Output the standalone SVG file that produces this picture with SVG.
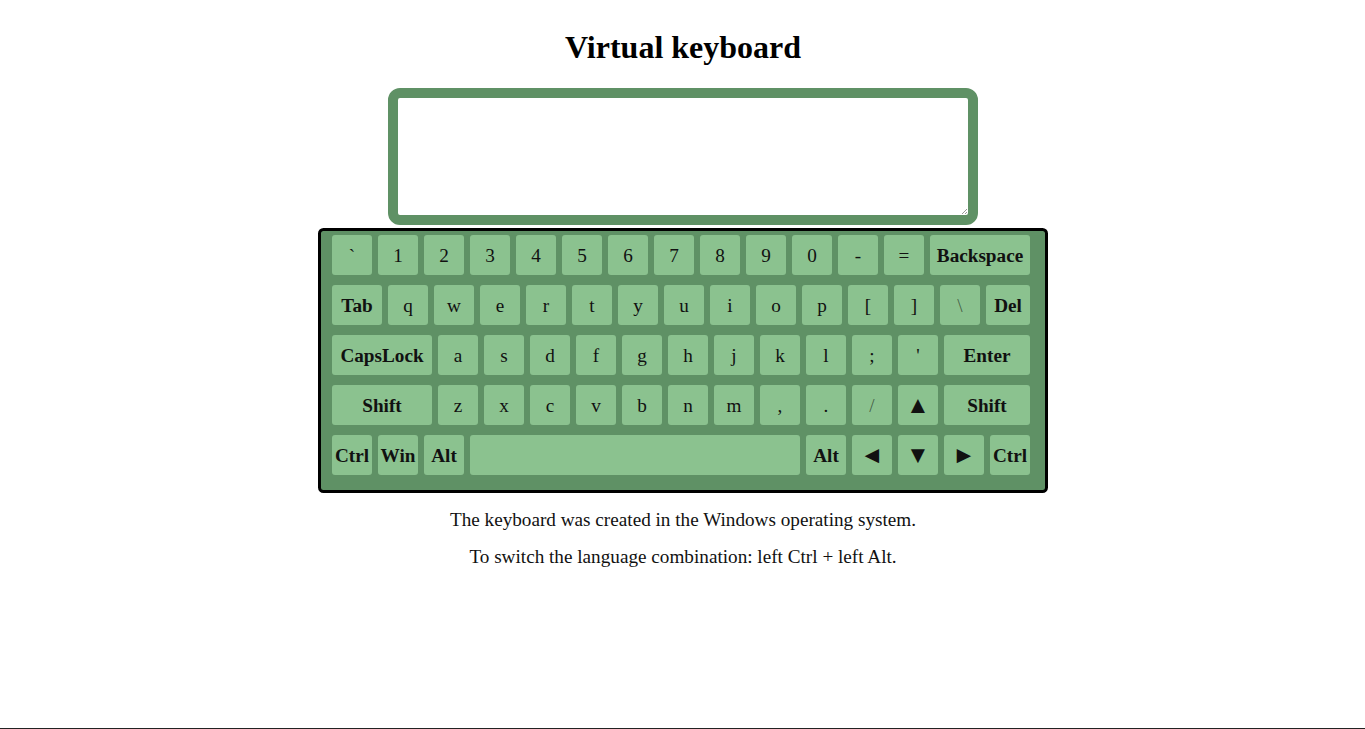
<svg xmlns="http://www.w3.org/2000/svg" width="1365" height="729" viewBox="0 0 1365 729">
<style>
.k{fill:#8bc28f;}
.t{font-family:"Liberation Serif","Times New Roman",serif;font-size:19.2px;fill:#111;text-anchor:middle;}
.b{font-weight:bold;}
.a{font-size:24px;}
.p{font-family:"Liberation Serif","Times New Roman",serif;font-size:19.2px;fill:#111;text-anchor:middle;}
</style>
<rect width="1365" height="729" fill="#ffffff"/>
<text x="683" y="58" style="font-family:'Liberation Serif','Times New Roman',serif;font-size:32px;font-weight:bold;fill:#000;text-anchor:middle">Virtual keyboard</text>
<g id="textarea">
<rect x="393" y="93" width="580" height="127" rx="7" fill="#ffffff" stroke="#5f9165" stroke-width="10"/>
<path d="M962 214 L967 209 M965 214 L967 212" stroke="#999" stroke-width="1" fill="none"/>
</g>
<g id="keyboard">
<rect x="319.5" y="229.5" width="727" height="262" rx="4" fill="#5f9165" stroke="#000" stroke-width="3"/>
</g>
<g id="keys">
<g id="row1">
<g id="k-backtick"><rect class="k" x="332" y="235" width="40" height="40" rx="3"/><text class="t" x="352" y="261.5">`</text></g>
<g id="k-1"><rect class="k" x="378" y="235" width="40" height="40" rx="3"/><text class="t" x="398" y="261.5">1</text></g>
<g id="k-2"><rect class="k" x="424" y="235" width="40" height="40" rx="3"/><text class="t" x="444" y="261.5">2</text></g>
<g id="k-3"><rect class="k" x="470" y="235" width="40" height="40" rx="3"/><text class="t" x="490" y="261.5">3</text></g>
<g id="k-4"><rect class="k" x="516" y="235" width="40" height="40" rx="3"/><text class="t" x="536" y="261.5">4</text></g>
<g id="k-5"><rect class="k" x="562" y="235" width="40" height="40" rx="3"/><text class="t" x="582" y="261.5">5</text></g>
<g id="k-6"><rect class="k" x="608" y="235" width="40" height="40" rx="3"/><text class="t" x="628" y="261.5">6</text></g>
<g id="k-7"><rect class="k" x="654" y="235" width="40" height="40" rx="3"/><text class="t" x="674" y="261.5">7</text></g>
<g id="k-8"><rect class="k" x="700" y="235" width="40" height="40" rx="3"/><text class="t" x="720" y="261.5">8</text></g>
<g id="k-9"><rect class="k" x="746" y="235" width="40" height="40" rx="3"/><text class="t" x="766" y="261.5">9</text></g>
<g id="k-0"><rect class="k" x="792" y="235" width="40" height="40" rx="3"/><text class="t" x="812" y="261.5">0</text></g>
<g id="k-minus"><rect class="k" x="838" y="235" width="40" height="40" rx="3"/><text class="t" x="858" y="261.5">-</text></g>
<g id="k-equal"><rect class="k" x="884" y="235" width="40" height="40" rx="3"/><text class="t" x="904" y="261.5">=</text></g>
<g id="k-backspace"><rect class="k" x="930" y="235" width="100" height="40" rx="3"/><text class="t b" x="980" y="261.5">Backspace</text></g>
</g>
<g id="row2">
<g id="k-tab"><rect class="k" x="332" y="285" width="50" height="40" rx="3"/><text class="t b" x="357" y="311.5">Tab</text></g>
<g id="k-q"><rect class="k" x="388" y="285" width="40" height="40" rx="3"/><text class="t" x="408" y="311.5">q</text></g>
<g id="k-w"><rect class="k" x="434" y="285" width="40" height="40" rx="3"/><text class="t" x="454" y="311.5">w</text></g>
<g id="k-e"><rect class="k" x="480" y="285" width="40" height="40" rx="3"/><text class="t" x="500" y="311.5">e</text></g>
<g id="k-r"><rect class="k" x="526" y="285" width="40" height="40" rx="3"/><text class="t" x="546" y="311.5">r</text></g>
<g id="k-t"><rect class="k" x="572" y="285" width="40" height="40" rx="3"/><text class="t" x="592" y="311.5">t</text></g>
<g id="k-y"><rect class="k" x="618" y="285" width="40" height="40" rx="3"/><text class="t" x="638" y="311.5">y</text></g>
<g id="k-u"><rect class="k" x="664" y="285" width="40" height="40" rx="3"/><text class="t" x="684" y="311.5">u</text></g>
<g id="k-i"><rect class="k" x="710" y="285" width="40" height="40" rx="3"/><text class="t" x="730" y="311.5">i</text></g>
<g id="k-o"><rect class="k" x="756" y="285" width="40" height="40" rx="3"/><text class="t" x="776" y="311.5">o</text></g>
<g id="k-p"><rect class="k" x="802" y="285" width="40" height="40" rx="3"/><text class="t" x="822" y="311.5">p</text></g>
<g id="k-lbracket"><rect class="k" x="848" y="285" width="40" height="40" rx="3"/><text class="t" x="868" y="311.5">[</text></g>
<g id="k-rbracket"><rect class="k" x="894" y="285" width="40" height="40" rx="3"/><text class="t" x="914" y="311.5">]</text></g>
<g id="k-backslash"><rect class="k" x="940" y="285" width="40" height="40" rx="3"/><text class="t" x="960" y="311.5" fill-opacity="0.6">\</text></g>
<g id="k-del"><rect class="k" x="986" y="285" width="44" height="40" rx="3"/><text class="t b" x="1008" y="311.5">Del</text></g>
</g>
<g id="row3">
<g id="k-capslock"><rect class="k" x="332" y="335" width="100" height="40" rx="3"/><text class="t b" x="382" y="361.5">CapsLock</text></g>
<g id="k-a"><rect class="k" x="438" y="335" width="40" height="40" rx="3"/><text class="t" x="458" y="361.5">a</text></g>
<g id="k-s"><rect class="k" x="484" y="335" width="40" height="40" rx="3"/><text class="t" x="504" y="361.5">s</text></g>
<g id="k-d"><rect class="k" x="530" y="335" width="40" height="40" rx="3"/><text class="t" x="550" y="361.5">d</text></g>
<g id="k-f"><rect class="k" x="576" y="335" width="40" height="40" rx="3"/><text class="t" x="596" y="361.5">f</text></g>
<g id="k-g"><rect class="k" x="622" y="335" width="40" height="40" rx="3"/><text class="t" x="642" y="361.5">g</text></g>
<g id="k-h"><rect class="k" x="668" y="335" width="40" height="40" rx="3"/><text class="t" x="688" y="361.5">h</text></g>
<g id="k-j"><rect class="k" x="714" y="335" width="40" height="40" rx="3"/><text class="t" x="734" y="361.5">j</text></g>
<g id="k-k"><rect class="k" x="760" y="335" width="40" height="40" rx="3"/><text class="t" x="780" y="361.5">k</text></g>
<g id="k-l"><rect class="k" x="806" y="335" width="40" height="40" rx="3"/><text class="t" x="826" y="361.5">l</text></g>
<g id="k-semicolon"><rect class="k" x="852" y="335" width="40" height="40" rx="3"/><text class="t" x="872" y="361.5">;</text></g>
<g id="k-quote"><rect class="k" x="898" y="335" width="40" height="40" rx="3"/><text class="t" x="918" y="361.5">'</text></g>
<g id="k-enter"><rect class="k" x="944" y="335" width="86" height="40" rx="3"/><text class="t b" x="987" y="361.5">Enter</text></g>
</g>
<g id="row4">
<g id="k-lshift"><rect class="k" x="332" y="385" width="100" height="40" rx="3"/><text class="t b" x="382" y="411.5">Shift</text></g>
<g id="k-z"><rect class="k" x="438" y="385" width="40" height="40" rx="3"/><text class="t" x="458" y="411.5">z</text></g>
<g id="k-x"><rect class="k" x="484" y="385" width="40" height="40" rx="3"/><text class="t" x="504" y="411.5">x</text></g>
<g id="k-c"><rect class="k" x="530" y="385" width="40" height="40" rx="3"/><text class="t" x="550" y="411.5">c</text></g>
<g id="k-v"><rect class="k" x="576" y="385" width="40" height="40" rx="3"/><text class="t" x="596" y="411.5">v</text></g>
<g id="k-b"><rect class="k" x="622" y="385" width="40" height="40" rx="3"/><text class="t" x="642" y="411.5">b</text></g>
<g id="k-n"><rect class="k" x="668" y="385" width="40" height="40" rx="3"/><text class="t" x="688" y="411.5">n</text></g>
<g id="k-m"><rect class="k" x="714" y="385" width="40" height="40" rx="3"/><text class="t" x="734" y="411.5">m</text></g>
<g id="k-comma"><rect class="k" x="760" y="385" width="40" height="40" rx="3"/><text class="t" x="780" y="411.5">,</text></g>
<g id="k-period"><rect class="k" x="806" y="385" width="40" height="40" rx="3"/><text class="t" x="826" y="411.5">.</text></g>
<g id="k-slash"><rect class="k" x="852" y="385" width="40" height="40" rx="3"/><text class="t" x="872" y="411.5" fill-opacity="0.6">/</text></g>
<g id="k-up"><rect class="k" x="898" y="385" width="40" height="40" rx="3"/><text class="t a" x="918" y="412.5">▲</text></g>
<g id="k-rshift"><rect class="k" x="944" y="385" width="86" height="40" rx="3"/><text class="t b" x="987" y="411.5">Shift</text></g>
</g>
<g id="row5">
<g id="k-lctrl"><rect class="k" x="332" y="435" width="40" height="40" rx="3"/><text class="t b" x="352" y="461.5">Ctrl</text></g>
<g id="k-win"><rect class="k" x="378" y="435" width="40" height="40" rx="3"/><text class="t b" x="398" y="461.5">Win</text></g>
<g id="k-lalt"><rect class="k" x="424" y="435" width="40" height="40" rx="3"/><text class="t b" x="444" y="461.5">Alt</text></g>
<g id="k-space"><rect class="k" x="470" y="435" width="330" height="40" rx="3"/></g>
<g id="k-ralt"><rect class="k" x="806" y="435" width="40" height="40" rx="3"/><text class="t b" x="826" y="461.5">Alt</text></g>
<g id="k-left"><rect class="k" x="852" y="435" width="40" height="40" rx="3"/><text class="t a" x="872" y="462.5">◄</text></g>
<g id="k-down"><rect class="k" x="898" y="435" width="40" height="40" rx="3"/><text class="t a" x="918" y="462.5">▼</text></g>
<g id="k-right"><rect class="k" x="944" y="435" width="40" height="40" rx="3"/><text class="t a" x="964" y="462.5">►</text></g>
<g id="k-rctrl"><rect class="k" x="990" y="435" width="40" height="40" rx="3"/><text class="t b" x="1010" y="461.5">Ctrl</text></g>
</g>
</g>
<g id="connectors"></g>
<text class="p" x="683" y="526">The keyboard was created in the Windows operating system.</text>
<text class="p" x="683" y="563">To switch the language combination: left Ctrl + left Alt.</text>
<line x1="0" y1="728.5" x2="1365" y2="728.5" stroke="#222" stroke-width="1"/>
</svg>
